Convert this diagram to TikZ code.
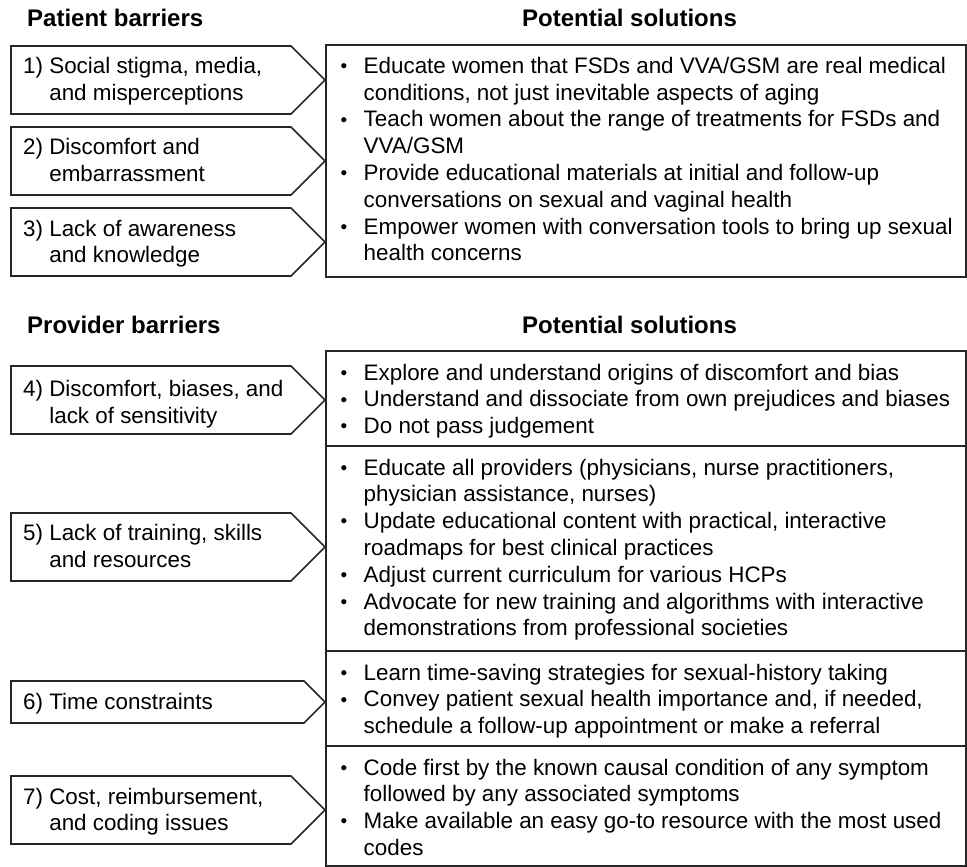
\documentclass[tikz,border=0pt]{standalone}
\usepackage{fontspec}
\setmainfont{Liberation Sans}

% small bullet as in the lists
\newcommand{\solbullet}{\raisebox{0.8pt}{\fontsize{19}{19}\selectfont\textbullet}}

\tikzset{
  barrier/.style = {draw=black!85, line width=1.6pt, line join=miter},
  solbox/.style = {draw=black!85, line width=1.6pt},
  heading/.style = {anchor=base west, inner sep=0pt, font=\fontsize{24}{28}\selectfont\bfseries},
  bartext/.style = {anchor=base west, inner sep=0pt, font=\fontsize{22.4}{26.8}\selectfont},
  soltext/.style = {anchor=base west, inner sep=0pt, font=\fontsize{22.4}{26.8}\selectfont}
}

\begin{document}
\begin{tikzpicture}[x=1pt, y=-1pt]
\useasboundingbox (0,0) rectangle (967,867);

% headings
\node[heading] (patienthead) at (27,27) {Patient barriers};
\node[heading] (patientsol) at (522,27) {Potential solutions};
\node[heading] (providerhead) at (27,333) {Provider barriers};
\node[heading] (providersol) at (522,333) {Potential solutions};

% patient barriers
\draw[barrier] (11,46) -- (291,46) -- (325,80) -- (291,114) -- (11,114) -- cycle;
\draw[barrier] (11,127) -- (291,127) -- (325,161) -- (291,195) -- (11,195) -- cycle;
\draw[barrier] (11,208) -- (291,208) -- (325,242) -- (291,276) -- (11,276) -- cycle;
\node[bartext] (bar1) at (23,73.6) {1)~\begin{tabular}[t]{@{}l@{}}Social stigma, media,\\and misperceptions\end{tabular}};
\node[bartext] (bar2) at (23,154.8) {2)~\begin{tabular}[t]{@{}l@{}}Discomfort and\\embarrassment\end{tabular}};
\node[bartext] (bar3) at (23,236) {3)~\begin{tabular}[t]{@{}l@{}}Lack of awareness\\and knowledge\end{tabular}};

\draw[solbox] (326,45) rectangle (966,277);
\node[soltext] (sol1) at (340.5,73.3) {\begin{tabular}[t]{@{}p{23pt}@{}l@{}}
\solbullet & Educate women that FSDs and VVA/GSM are real medical\\
 & conditions, not just inevitable aspects of aging\\
\solbullet & Teach women about the range of treatments for FSDs and\\
 & VVA/GSM\\
\solbullet & Provide educational materials at initial and follow-up\\
 & conversations on sexual and vaginal health\\
\solbullet & Empower women with conversation tools to bring up sexual\\
 & health concerns
\end{tabular}};

% provider barriers
\draw[barrier] (11,366) -- (291,366) -- (325,400) -- (291,434) -- (11,434) -- cycle;
\draw[barrier] (11,513) -- (291,513) -- (325,547) -- (291,581) -- (11,581) -- cycle;
\draw[barrier] (11,681) -- (304,681) -- (325,702) -- (304,723) -- (11,723) -- cycle;
\draw[barrier] (11,776) -- (291,776) -- (325,810) -- (291,844) -- (11,844) -- cycle;
\node[bartext] (bar4) at (23,396.5) {4)~\begin{tabular}[t]{@{}l@{}}Discomfort, biases, and\\lack of sensitivity\end{tabular}};
\node[bartext] (bar5) at (23,540.8) {5)~\begin{tabular}[t]{@{}l@{}}Lack of training, skills\\and resources\end{tabular}};
\node[bartext] (bar6) at (23,709.3) {6) Time constraints};
\node[bartext] (bar7) at (23,804) {7)~\begin{tabular}[t]{@{}l@{}}Cost, reimbursement,\\and coding issues\end{tabular}};

\draw[solbox] (326,351) rectangle (966,446);
\draw[solbox] (326,446) rectangle (966,651);
\draw[solbox] (326,651) rectangle (966,746);
\draw[solbox] (326,746) rectangle (966,866);
\node[soltext] (sol4) at (340.5,380) {\begin{tabular}[t]{@{}p{23pt}@{}l@{}}
\solbullet & Explore and understand origins of discomfort and bias\\
\solbullet & Understand and dissociate from own prejudices and biases\\
\solbullet & Do not pass judgement
\end{tabular}};
\node[soltext] (sol5) at (340.5,475) {\begin{tabular}[t]{@{}p{23pt}@{}l@{}}
\solbullet & Educate all providers (physicians, nurse practitioners,\\
 & physician assistance, nurses)\\
\solbullet & Update educational content with practical, interactive\\
 & roadmaps for best clinical practices\\
\solbullet & Adjust current curriculum for various HCPs\\
\solbullet & Advocate for new training and algorithms with interactive\\
 & demonstrations from professional societies
\end{tabular}};
\node[soltext] (sol6) at (340.5,680) {\begin{tabular}[t]{@{}p{23pt}@{}l@{}}
\solbullet & Learn time-saving strategies for sexual-history taking\\
\solbullet & Convey patient sexual health importance and, if needed,\\
 & schedule a follow-up appointment or make a referral
\end{tabular}};
\node[soltext] (sol7) at (340.5,775) {\begin{tabular}[t]{@{}p{23pt}@{}l@{}}
\solbullet & Code first by the known causal condition of any symptom\\
 & followed by any associated symptoms\\
\solbullet & Make available an easy go-to resource with the most used\\
 & codes
\end{tabular}};
\end{tikzpicture}
\end{document}
